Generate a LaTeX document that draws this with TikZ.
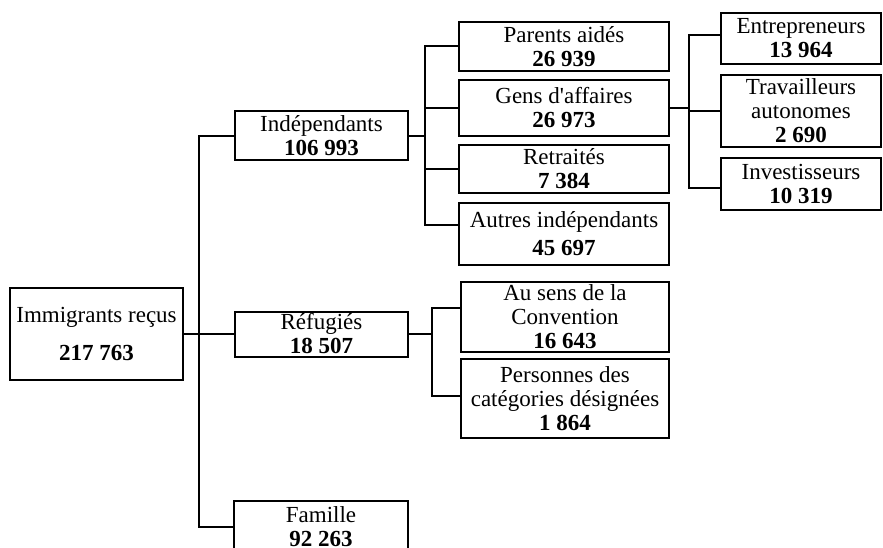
\documentclass[tikz,border=0pt]{standalone}
\usepackage{fontspec}
\setmainfont{Liberation Serif}

\begin{document}
\begin{tikzpicture}[x=1pt,y=-1pt,line width=2pt,
  box/.style={draw,align=center,inner sep=0pt,font=\fontsize{23}{24}\selectfont}]
  \useasboundingbox (0,0) rectangle (883,548);
  \clip (0,0) rectangle (883,548);

  \node[box,minimum width=173pt,minimum height=92pt] (imm) at (96.5,334) {Immigrants reçus\\[14pt]\textbf{217 763}};

  \node[box,minimum width=173pt,minimum height=49pt] (indep) at (321.5,136) {Indépendants\\\textbf{106 993}};
  \node[box,minimum width=173pt,minimum height=45pt] (refug) at (321.5,334) {Réfugiés\\\textbf{18 507}};
  \node[box,minimum width=174pt,minimum height=52pt] (fam) at (321,527) {Famille\\\textbf{92 263}};

  \node[box,minimum width=210pt,minimum height=49pt] (parents) at (564,46.5) {Parents aidés\\\textbf{26 939}};
  \node[box,minimum width=210pt,minimum height=56pt] (gens) at (564,108) {Gens d\textquotesingle affaires\\\textbf{26 973}};
  \node[box,minimum width=210pt,minimum height=48pt] (retr) at (564,169) {Retraités\\\textbf{7 384}};
  \node[box,minimum width=210pt,minimum height=62pt] (autres) at (564,234) {Autres indépendants\\[4pt]\textbf{45 697}};

  \node[box,minimum width=160pt,minimum height=51pt] (entre) at (801,38.5) {Entrepreneurs\\\textbf{13 964}};
  \node[box,minimum width=160pt,minimum height=72pt] (trav) at (801,111) {Travailleurs\\autonomes\\\textbf{2 690}};
  \node[box,minimum width=160pt,minimum height=52pt] (invest) at (801,184) {Investisseurs\\\textbf{10 319}};

  \node[box,minimum width=208pt,minimum height=70pt] (conv) at (565,317) {Au sens de la\\Convention\\\textbf{16 643}};
  \node[box,minimum width=208pt,minimum height=79pt] (pers) at (565,398.5) {Personnes des\\catégories désignées\\\textbf{1 864}};

  \coordinate (bus1) at (199,334);
  \coordinate (bus2) at (425,136);
  \coordinate (bus3) at (689,108);
  \coordinate (bus4) at (432,334);

  \draw (imm.east) -- (refug.west);
  \draw (indep.west) -| (bus1) |- (fam.west);

  \draw (indep.east) -- (bus2);
  \draw (parents.west) -| (bus2) |- ([yshift=9pt]autres.west);
  \draw (gens.west) -| (bus2);
  \draw (retr.west) -| (bus2);

  \draw (gens.east) -- (bus3);
  \draw ([yshift=3pt]entre.west) -| (bus3) |- ([yshift=-4pt]invest.west);
  \draw (trav.west) -| (bus3);

  \draw (refug.east) -- (bus4);
  \draw ([yshift=9pt]conv.west) -| (bus4) |- ([yshift=3pt]pers.west);
\end{tikzpicture}
\end{document}
